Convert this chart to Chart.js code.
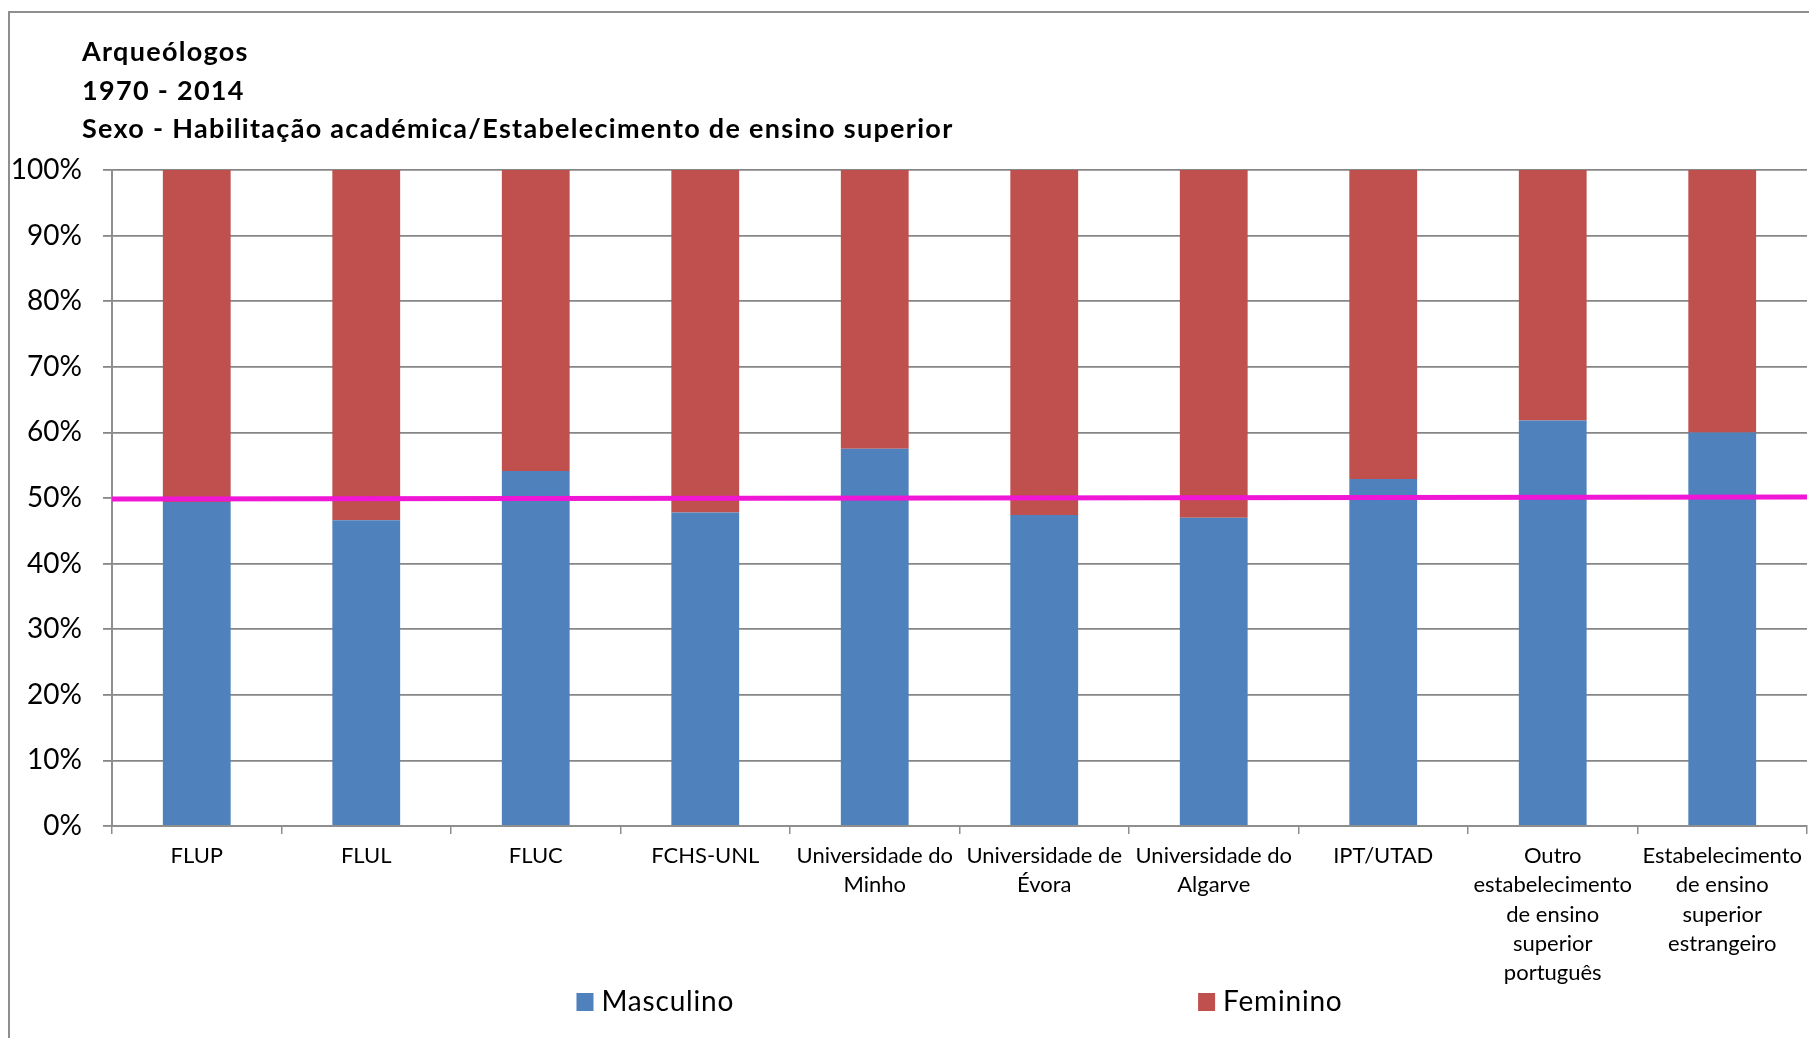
<!DOCTYPE html>
<html>
<head>
<meta charset="utf-8">
<script src="https://cdn.jsdelivr.net/npm/chart.js@4.4.1/dist/chart.umd.min.js"></script>
<style>
  html, body { margin: 0; padding: 0; background: #fff; overflow: hidden; }
  #frame { position: absolute; left: 8px; top: 11px; width: 1900px; height: 1100px; border: 2px solid #8e8e8e; }
  #chart { position: absolute; left: 0; top: 0; }
</style>
</head>
<body>
<div id="frame"></div>
<canvas id="chart" width="1809" height="1038"></canvas>
<script>
const titleLines = ["Arqueólogos", "1970 - 2014", "Sexo - Habilitação académica/Estabelecimento de ensino superior"];

const categories = [
  "FLUP",
  "FLUL",
  "FLUC",
  "FCHS-UNL",
  ["Universidade do", "Minho"],
  ["Universidade de", "Évora"],
  ["Universidade do", "Algarve"],
  "IPT/UTAD",
  ["Outro", "estabelecimento", "de ensino", "superior", "português"],
  ["Estabelecimento", "de ensino", "superior", "estrangeiro"]
];

// percentages
const masculino = [49.4, 46.6, 54.1, 47.8, 57.5, 47.4, 47.0, 52.9, 61.8, 60.0];
const feminino  = [50.6, 53.4, 45.9, 52.2, 42.5, 52.6, 53.0, 47.1, 38.2, 40.0];

// the pink 50% marker, left end and right end
const referenceLine = [49.85, 50.15];

const FONT = "Lato";

// title drawn top-left, like the spreadsheet version
const titlePlugin = {
  id: "leftTitle",
  afterDraw(chart) {
    const ctx = chart.ctx;
    ctx.save();
    ctx.font = "bold 27px " + FONT;
    ctx.letterSpacing = "1.3px";
    ctx.fillStyle = "#000";
    ctx.textBaseline = "alphabetic";
    titleLines.forEach((t, i) => ctx.fillText(t, 82, 61 + i * 38.7));
    ctx.restore();
  }
};

// legend with the two items spread apart under the plot
const legendPlugin = {
  id: "spreadLegend",
  afterDraw(chart) {
    const ctx = chart.ctx;
    const area = chart.chartArea;
    ctx.save();
    ctx.font = "28px " + FONT;
    ctx.letterSpacing = "0.8px";
    ctx.textBaseline = "alphabetic";
    const box = 17, textGap = 8, itemGap = 464;
    const items = chart.data.datasets.filter((d) => d.type !== "line");
    const widths = items.map((d) => box + textGap + ctx.measureText(d.label).width);
    const total = widths.reduce((a, b) => a + b, 0) + itemGap * (items.length - 1);
    let x = (area.left + area.right) / 2 - total / 2;
    const baseline = 1011;
    items.forEach((d, i) => {
      ctx.fillStyle = d.backgroundColor;
      ctx.fillRect(x, baseline - 18, box, 18);
      ctx.fillStyle = "#000";
      ctx.fillText(d.label, x + box + textGap, baseline);
      x += widths[i] + itemGap;
    });
    ctx.restore();
  }
};

function draw() {
  new Chart(document.getElementById("chart"), {
    type: "bar",
    data: {
      labels: categories,
      datasets: [
        {
          label: "Masculino",
          data: masculino,
          stack: "sexo",
          grouped: false,
          backgroundColor: "#4F81BD",
          barPercentage: 0.4,
          categoryPercentage: 1
        },
        {
          label: "Feminino",
          data: feminino,
          stack: "sexo",
          grouped: false,
          backgroundColor: "#C0504D",
          barPercentage: 0.4,
          categoryPercentage: 1
        },
        {
          type: "line",
          label: "50%",
          data: [{ x: 0, y: referenceLine[0] }, { x: 1, y: referenceLine[1] }],
          stack: "sexo",
          xAxisID: "x2",
          yAxisID: "y",
          borderColor: "#F016D6",
          borderWidth: 5,
          pointRadius: 0,
          order: -1
        }
      ]
    },
    options: {
      responsive: false,
      animation: false,
      events: [],
      layout: { padding: { top: 170, left: 0, right: 0, bottom: 42 } },
      plugins: {
        legend: { display: false },
        title: { display: false },
        tooltip: { enabled: false }
      },
      scales: {
        x: {
          stacked: true,
          grid: { drawOnChartArea: false, tickLength: 8, color: "#8e8e8e", lineWidth: 1.5, offset: true },
          border: { color: "#8e8e8e", width: 2 },
          ticks: {
            color: "#000",
            font: { family: FONT, size: 22, lineHeight: 1.336 },
            padding: 7,
            maxRotation: 0,
            autoSkip: false
          },
          afterFit(scale) { scale.height = 170; }
        },
        x2: { type: "linear", display: false, offset: false, min: 0, max: 1 },
        y: {
          stacked: true,
          min: 0,
          max: 100,
          ticks: {
            stepSize: 10,
            callback: (v) => v + "%",
            color: "#000",
            font: { family: FONT, size: 28 },
            padding: 21
          },
          grid: { color: "#868686", lineWidth: 1.8, tickLength: 9 },
          border: { color: "#8e8e8e", width: 2 },
          afterFit(scale) { scale.width = 112; }
        }
      }
    },
    plugins: [titlePlugin, legendPlugin]
  });
}

Promise.all([
  document.fonts.load("25px " + FONT),
  document.fonts.load("bold 25px " + FONT)
]).catch(() => {}).then(draw);
</script>
</body>
</html>
